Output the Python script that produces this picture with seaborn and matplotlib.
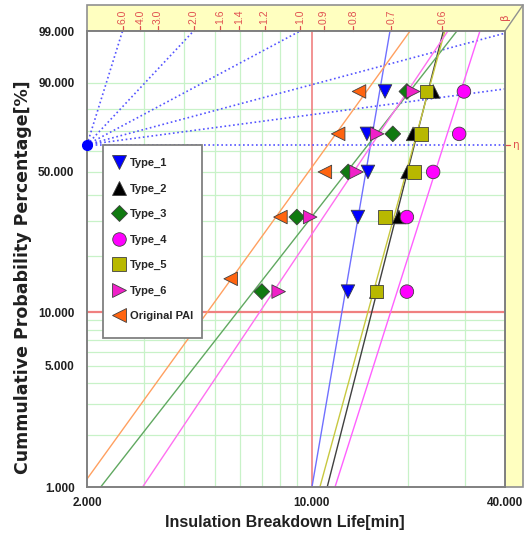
import numpy as np
import pandas as pd
import matplotlib
matplotlib.use("Agg")
import matplotlib.pyplot as plt
import matplotlib.transforms as mtransforms
from matplotlib.markers import MarkerStyle
from matplotlib.patches import Polygon, Rectangle
from matplotlib.lines import Line2D
import seaborn as sns

# ---------------- data ----------------
types = ["Type_1", "Type_2", "Type_3", "Type_4", "Type_5", "Type_6", "Original PAI"]
ranks = [12.96, 31.48, 50.0, 68.52, 87.04]          # cumulative %, median ranks
pai_ranks = [15.2, 31.48, 50.0, 68.52, 87.04]
type_1 = [12.98, 13.94, 14.98, 14.87, 16.93]
type_2 = [15.9, 18.7, 19.9, 20.7, 23.9]
type_3 = [7.0, 9.0, 13.0, 17.9, 19.8]
type_4 = [19.8, 19.8, 23.9, 28.8, 29.8]
type_5 = [15.9, 16.9, 20.8, 21.9, 22.8]
type_6 = [7.9, 9.9, 13.8, 16.0, 20.7]
original_pai = [5.6, 8.0, 11.0, 12.1, 14.05]
fit_beta = [10.96, 7.36, 2.40, 5.90, 6.84, 2.80, 2.60]
fit_eta = [15.26, 20.9, 15.0, 25.8, 20.8, 15.4, 11.26]
beta_scale = [6.0, 4.0, 3.0, 2.0, 1.6, 1.4, 1.2, 1.0, 0.9, 0.8, 0.7, 0.6]
beta_guides = [6.0, 2.0, 1.0, 0.5, 0.25]
y_ticks = [1, 5, 10, 50, 90, 99]
y_ticklabels = ["1.000", "5.000", "10.000", "50.000", "90.000", "99.000"]
y_grid = [2, 3, 4, 5, 6, 7, 8, 9, 20, 30, 40, 50, 60, 70, 80, 90]
x_ticks = [2, 10, 40]
x_ticklabels = ["2.000", "10.000", "40.000"]
x_grid = [3, 4, 5, 6, 7, 8, 9, 20, 30]

diamond = MarkerStyle("D", transform=mtransforms.Affine2D().scale(0.82))
marker_map = {"Type_1": "v", "Type_2": "^", "Type_3": diamond, "Type_4": "o",
              "Type_5": "s", "Type_6": ">", "Original PAI": "<"}
color_map = {"Type_1": "#0000FF", "Type_2": "#000000", "Type_3": "#107A10",
             "Type_4": "#FF00FF", "Type_5": "#B8B800", "Type_6": "#F020C8",
             "Original PAI": "#FF6410"}
line_map = {"Type_1": "#7070FF", "Type_2": "#404040", "Type_3": "#60A860",
            "Type_4": "#FF60FF", "Type_5": "#C8C840", "Type_6": "#FF70F0",
            "Original PAI": "#FFA060"}


def wb(p):
    p = np.asarray(p, dtype=float) / 100.0
    return np.log(-np.log(1.0 - p))


series = [type_1, type_2, type_3, type_4, type_5, type_6, original_pai]
rows = []
for t, vals in zip(types, series):
    rk = pai_ranks if t == "Original PAI" else ranks
    for v, r in zip(vals, rk):
        rows.append({"type": t, "life": v, "w": float(wb(r))})
df = pd.DataFrame(rows)

fr = np.linspace(0.5, 99.5, 200)
lrows = []
for t, b, e in zip(types, fit_beta, fit_eta):
    wv = wb(fr)
    xv = e * np.exp(wv / b)
    for xx, ww in zip(xv, wv):
        lrows.append({"type": t, "life": xx, "w": ww})
ldf = pd.DataFrame(lrows)

# ---------------- figure ----------------
sns.set_style("white")
plt.rcParams["font.family"] = ["Liberation Sans", "DejaVu Sans"]
W, H = 524, 538
fig = plt.figure(figsize=(W / 100, H / 100), dpi=100)
L, R, T, B = 87, 505, 31, 487
AW, AH = R - L, B - T
ax = fig.add_axes([L / W, 1 - B / H, AW / W, AH / H])


def fpt(x, y):
    return (x / W, 1 - y / H)


def apt(x, y):
    return ((x - L) / AW, (B - y) / AH)


# yellow frame (top band and right band)
poly = Polygon([fpt(87, 31), fpt(87, 5), fpt(523, 5), fpt(523, 487), fpt(505, 487), fpt(505, 31)],
               closed=True, transform=fig.transFigure, facecolor="#FFFFC0",
               edgecolor="#909090", linewidth=1.2, zorder=-5)
fig.patches.append(poly)
fig.lines.append(Line2D([505 / W, 523 / W], [1 - 31 / H, 1 - 5 / H], transform=fig.transFigure,
                        color="#909090", linewidth=1.0, zorder=-4))

ax.set_xscale("log")
ax.set_xlim(2, 40)
w1, w99 = float(wb(1)), float(wb(99))
ax.set_ylim(w1, w99)

# grid
for gx in x_grid:
    ax.axvline(gx, color="#C8F2C8", linewidth=0.9, zorder=0)
for gy in y_grid:
    ax.axhline(float(wb(gy)), color="#C8F2C8", linewidth=0.9, zorder=0)
ax.axvline(10, color="#F08080", linewidth=1.2, zorder=0.5)
ax.axhline(float(wb(10)), color="#F08080", linewidth=1.6, zorder=0.5)

# pivot / slope guide lines
dot = (0, (1, 1.6))
for b in beta_guides:
    xe = 2 * np.exp(w99 / b)
    if xe > 40:
        xe, ye = 40, b * np.log(40 / 2)
    else:
        ye = w99
    ax.plot([2, xe], [0, ye], color="#5555FF", linewidth=1.2, linestyle=dot, zorder=1)
ax.plot([2, 40], [0, 0], color="#5555FF", linewidth=1.2, linestyle=dot, zorder=1)
ax.plot([2], [0], marker="o", markersize=7, color="#0000FF", clip_on=False, zorder=6)

# fitted lines
sns.lineplot(data=ldf, x="life", y="w", hue="type", palette=line_map, sort=False,
             estimator=None, legend=False, linewidth=1.0, ax=ax, zorder=2)

# points
sns.scatterplot(data=df, x="life", y="w", hue="type", style="type", hue_order=types,
                style_order=types, palette=color_map, markers=marker_map, s=95,
                edgecolor="#404040", linewidth=0.6, ax=ax, zorder=5)

# top beta scale
blend = mtransforms.blended_transform_factory(ax.transData, ax.transAxes)
for b in beta_scale:
    xb = 2 * np.exp(w99 / b)
    ax.plot([xb, xb], [1.0, 1.0 + 5 / AH], transform=blend, color="#E05050",
            linewidth=0.9, clip_on=False)
    ax.text(xb, 1.0 + 7 / AH, f"{b:.1f}", transform=blend, rotation=90, ha="center",
            va="bottom", color="#E05050", fontsize=7.5)
ax.text(1.0, 1.0 + 14 / AH, "β", transform=ax.transAxes, rotation=90, ha="center",
        va="center", color="#E05050", fontsize=7.5, family=["DejaVu Sans"])
blend_y = mtransforms.blended_transform_factory(ax.transAxes, ax.transData)
ax.plot([1.0, 1.0 + 5 / AW], [0, 0], transform=blend_y, color="#E05050", linewidth=0.9,
        clip_on=False)
ax.text(1.0 + 8 / AW, 0, "η", transform=blend_y, ha="left", va="center",
        color="#E05050", fontsize=7.5, family=["DejaVu Sans"])

# axes & ticks
ax.set_xticks(x_ticks)
ax.set_xticklabels(x_ticklabels)
ax.xaxis.set_minor_locator(matplotlib.ticker.NullLocator())
ax.set_yticks([float(wb(v)) for v in y_ticks])
ax.set_yticklabels(y_ticklabels)
ax.tick_params(axis="both", which="major", length=4, width=1, color="#808080",
               labelsize=8.5, pad=5, direction="out")
ax.tick_params(axis="x", pad=3)
for lab in ax.get_xticklabels() + ax.get_yticklabels():
    lab.set_fontweight("bold")
    lab.set_color("#202020")
for sp in ax.spines.values():
    sp.set_color("#808080")
    sp.set_linewidth(1.4)
    sp.set_visible(True)

ax.set_xlabel("Insulation Breakdown Life[min]", fontsize=11.5, fontweight="bold",
              color="#202020")
ax.xaxis.set_label_coords(0.474, -28 / AH)
ax.set_ylabel("Cummulative Probability Percentage[%]", fontsize=12.5, fontweight="bold",
              color="#202020", family=["DejaVu Sans"])
ax.yaxis.set_label_coords(-55 / AW, 0.46)

# legend (frame drawn as a separate box)
x0, y0 = apt(103, 338)
x1, y1 = apt(202, 145)
ax.add_patch(Rectangle((x0, y0), x1 - x0, y1 - y0, transform=ax.transAxes,
                       facecolor="white", edgecolor="#808080", linewidth=1.3, zorder=9))
handles, labels = ax.get_legend_handles_labels()
lx, ly = apt(103, 150)
leg = ax.legend(handles, labels, loc="upper left", bbox_to_anchor=(lx, ly),
                borderaxespad=0, frameon=False, labelspacing=1.38,
                handletextpad=0.4, borderpad=0.75, handlelength=1.3,
                prop={"weight": "bold", "size": 8})
leg.set_zorder(10)

fig.savefig("out.png", dpi=100)
